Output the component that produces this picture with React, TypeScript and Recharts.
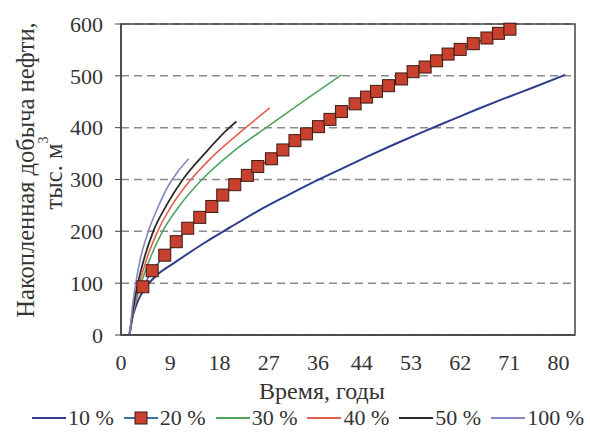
import React from 'react';
import { LineChart, Line, XAxis, YAxis, CartesianGrid, Legend, ReferenceArea } from 'recharts';

// ---- data ----
const xTicks = [0, 9, 18, 27, 36, 44, 53, 62, 71, 80];
const yTicks = [0, 100, 200, 300, 400, 500, 600];

const t10 = [1.5, 2.0, 2.7, 3.5, 4.5, 6.2, 10, 15, 20, 25, 30, 35, 40, 45, 50, 55, 60, 65, 70, 75, 81.2];
const v10 = [0, 30, 55, 75, 92, 112, 141, 176, 208, 239, 267, 294, 319, 344, 368, 391, 413, 435, 456, 476, 502];

const t20 = [4.0, 5.7, 8.0, 10.1, 12.2, 14.4, 16.6, 18.6, 20.8, 23.1, 25.0, 27.5, 29.6, 31.8, 33.9, 36.1, 38.2, 40.3, 42.8, 44.9, 46.7, 48.9, 51.3, 53.4, 55.6, 57.7, 59.8, 62.0, 64.4, 66.9, 69.0, 71.1];
const v20 = [93, 124, 154, 180, 206, 227, 248, 270, 290, 308, 325, 340, 357, 375, 388, 402, 416, 431, 446, 459, 470, 481, 494, 508, 517, 529, 542, 551, 562, 573, 582, 590];

const t30 = [1.6, 2.4, 3.7, 5.4, 7.6, 10.6, 14.8, 20.5, 26.8, 33.5, 40.3];
const v30 = [0, 50, 100, 150, 200, 248, 300, 354, 402, 452, 502];

const t40 = [1.6, 2.3, 3.4, 4.8, 6.7, 9.3, 12.8, 17.3, 22.8, 27.2];
const v40 = [0, 50, 100, 150, 200, 250, 300, 350, 400, 438];

const t50 = [1.6, 2.2, 3.1, 4.3, 5.9, 8.3, 11.3, 15.3, 19.8, 21.1];
const v50 = [0, 50, 100, 150, 200, 250, 300, 350, 400, 412];

const t100 = [1.6, 2.0, 2.7, 3.6, 5.0, 6.7, 8.6, 10.5, 12.4];
const v100 = [0, 45, 100, 150, 200, 245, 287, 317, 340];

const mk = (t: number[], v: number[]) => t.map((x, i) => ({ t: x, v: v[i] }));

const series = [
  { name: '10 %', data: mk(t10, v10), color: '#2f3b8c', width: 2, marker: false },
  { name: '20 %', data: mk(t20, v20), color: '#3f6f9f', width: 1.5, marker: true },
  { name: '30 %', data: mk(t30, v30), color: '#4fa35f', width: 1.6, marker: false },
  { name: '40 %', data: mk(t40, v40), color: '#e3604f', width: 1.6, marker: false },
  { name: '50 %', data: mk(t50, v50), color: '#2b2b2b', width: 1.8, marker: false },
  { name: '100 %', data: mk(t100, v100), color: '#8585c4', width: 1.6, marker: false },
];

const FONT = '"Liberation Serif", "Times New Roman", serif';
const SQ_FILL = '#c8412f';
const SQ_STROKE = '#3a1a12';

const SquareDot = (props: any) => {
  const { cx, cy } = props;
  if (cx == null || cy == null) return null;
  return <rect x={cx - 6} y={cy - 6} width={12} height={12} fill={SQ_FILL} stroke={SQ_STROKE} strokeWidth={1} />;
};

const LegendContent = () => (
  <div
    style={{
      display: 'flex',
      alignItems: 'center',
      height: 26,
      paddingLeft: 32,
      fontFamily: FONT,
      fontSize: 22,
      color: '#333',
      whiteSpace: 'nowrap',
    }}
  >
    {series.map((s) => (
      <div key={s.name} style={{ display: 'flex', alignItems: 'center', marginRight: 10 }}>
        <svg width={34} height={14}>
          <line x1={0} y1={7} x2={34} y2={7} stroke={s.color} strokeWidth={2} />
          {s.marker && <rect x={11} y={1} width={12} height={12} fill={SQ_FILL} stroke={SQ_STROKE} strokeWidth={1} />}
        </svg>
        <span style={{ marginLeft: 2 }}>{s.name}</span>
      </div>
    ))}
  </div>
);

export default function App() {
  return (
    <div style={{ position: 'absolute', left: 0, top: 0, background: '#fff' }}>
      <LineChart width={590} height={433} margin={{ top: 24, right: 15, bottom: 2, left: 0 }}>
        <CartesianGrid vertical={false} stroke="#8a8a8a" strokeWidth={1.5} strokeDasharray="8 5" />
        <XAxis
          type="number"
          dataKey="t"
          domain={[0, 83]}
          ticks={xTicks}
          allowDataOverflow
          height={70}
          tickLine={false}
          axisLine={{ stroke: '#444', strokeWidth: 1.5 }}
          tickSize={6}
          tickMargin={13}
          tick={{ fill: '#333', fontSize: 22, fontFamily: FONT }}
        />
        <YAxis
          type="number"
          domain={[0, 600]}
          ticks={yTicks}
          width={121}
          tickSize={6}
          tickMargin={12}
          tickLine={{ stroke: '#444' }}
          axisLine={{ stroke: '#444', strokeWidth: 1.5 }}
          tick={{ fill: '#333', fontSize: 22, fontFamily: FONT }}
        />
        <ReferenceArea x1={0} x2={83} y1={0} y2={600} fill="none" stroke="#444" strokeWidth={1.5} ifOverflow="visible" />
        {series.map((s) => (
          <Line
            key={s.name}
            name={s.name}
            data={s.data}
            dataKey="v"
            type={s.marker ? 'linear' : 'monotone'}
            stroke={s.color}
            strokeWidth={s.width}
            dot={s.marker ? <SquareDot /> : false}
            activeDot={false}
            isAnimationActive={false}
          />
        ))}
        <Legend verticalAlign="bottom" wrapperStyle={{ left: 0, width: 590 }} content={<LegendContent />} />
        <text x={322} y={391} textAnchor="middle" dominantBaseline="central" fontFamily={FONT} fontSize={24} fill="#333">
          Время, годы
        </text>
        <text
          x={25}
          y={170}
          transform="rotate(-90 25 170)"
          textAnchor="middle"
          dominantBaseline="central"
          fontFamily={FONT}
          fontSize={24.5}
          fill="#333"
        >
          Накопленная добыча нефти,
        </text>
        <text
          x={53}
          y={173}
          transform="rotate(-90 53 173)"
          textAnchor="middle"
          dominantBaseline="central"
          fontFamily={FONT}
          fontSize={24.5}
          fill="#333"
        >
          тыс. м<tspan fontSize={14} dy={-10}>3</tspan>
        </text>
      </LineChart>
    </div>
  );
}
